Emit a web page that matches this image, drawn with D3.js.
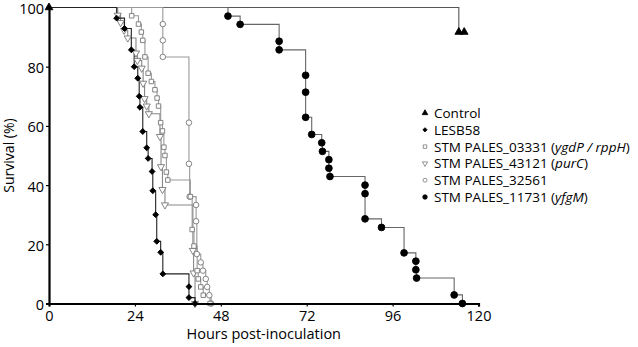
<!DOCTYPE html>
<html>
<head>
<meta charset="utf-8">
<script src="https://cdn.jsdelivr.net/npm/d3@7"></script>
<style>
  html, body { margin: 0; padding: 0; background: #fff; }
  svg text { font-family: "Open Sans", "Liberation Sans", sans-serif; fill: #000; }
</style>
</head>
<body>
<svg id="chart" width="638" height="347"></svg>
<script>
// ---- data (hours, survival %) ----
const xTicks = [0, 24, 48, 72, 96, 120];
const yTicks = [0, 20, 40, 60, 80, 100];

const controlPts = [[0,100],[114.5,91.7],[116,91.7]];
const lesb58Pts = [[18.9,96.4],[21.1,92.9],[23.0,85.7],[23.8,80.0],[24.8,76.1],[25.2,70.0],[25.4,66.3],[26.2,58.1],[27.3,52.6],[27.7,49.0],[28.8,44.6],[29.0,38.1],[29.8,30.0],[30.1,21.0],[31.2,17.3],[31.8,10.0],[39.1,5.7],[39.1,2.0],[40.8,0]];
const s03331Pts = [[23.1,97.2],[25.0,94.4],[25.8,91.7],[26.2,88.9],[26.8,83.3],[27.7,77.8],[28.6,75.0],[29.6,72.2],[30.2,69.4],[30.6,66.7],[31.2,61.1],[31.7,58.3],[32.1,52.8],[32.4,50.0],[32.8,44.4],[33.2,41.7],[39.5,36.1],[40.0,25.0],[40.5,19.4],[41.4,11.1],[41.7,8.3],[42.4,5.6],[43.1,2.8],[45.0,0]];
const s43121Pts = [[19.2,97.4],[20.0,94.9],[21.0,92.3],[22.0,89.7],[24.3,84.6],[24.7,82.1],[25.9,79.5],[26.3,74.4],[26.7,69.2],[27.3,66.7],[27.9,64.1],[31.0,56.4],[31.3,46.2],[31.7,38.5],[32.4,33.3],[40.2,17.9],[40.4,10.3],[40.8,0]];
const s32561Pts = [[31.8,94.4],[31.8,88.9],[31.8,83.3],[39.1,61.1],[39.1,47.2],[39.3,36.1],[41.1,33.3],[41.1,27.8],[41.3,16.7],[42.4,13.9],[43.0,11.1],[43.8,8.3],[44.2,5.6],[44.8,2.8],[45.3,0]];
const s11731Pts = [[50.0,97.1],[53.4,94.3],[64.3,88.6],[64.3,85.7],[71.7,77.1],[71.7,71.4],[71.7,62.9],[73.4,57.1],[76.2,54.3],[76.4,51.4],[78.2,48.6],[78.2,45.7],[78.5,42.9],[88.3,40.0],[88.3,37.1],[88.3,28.6],[92.9,25.7],[99.2,17.1],[102.5,14.3],[102.5,11.4],[102.7,8.6],[113.2,2.9],[115.5,0]];

const seriesNames = ["Control", "LESB58", "STM PALES_03331", "STM PALES_43121", "STM PALES_32561", "STM PALES_11731"];
const seriesGenes = ["", "", "ygdP / rppH", "purC", "", "yfgM"];

// ---- styles ----
const styles = [
  { pts: controlPts, line: "#555", sym: d3.symbolTriangle, size: 26, legSize: 14, fill: "#000", stroke: "#000", rot: 0 },
  { pts: lesb58Pts, line: "#222", sym: d3.symbolSquare, size: 17, legSize: 9, fill: "#000", stroke: "#000", rot: 45 },
  { pts: s03331Pts, line: "#999", sym: d3.symbolSquare, size: 20, legSize: 12, fill: "#fff", stroke: "#777", rot: 0 },
  { pts: s43121Pts, line: "#888", sym: d3.symbolTriangle, size: 22, legSize: 12, fill: "#fff", stroke: "#777", rot: 180 },
  { pts: s32561Pts, line: "#999", sym: d3.symbolCircle, size: 24, legSize: 12, fill: "#fff", stroke: "#777", rot: 0 },
  { pts: s11731Pts, line: "#666", sym: d3.symbolCircle, size: 36, legSize: 16, fill: "#000", stroke: "#000", rot: 0 }
];

const svg = d3.select("#chart");
const x = d3.scaleLinear().domain([0, 120]).range([49, 478.5]);
const y = d3.scaleLinear().domain([0, 100]).range([303.5, 7.5]);

function stepPath(pts) {
  let d = `M${x(0)},${y(100)}`;
  pts.forEach(([t, s]) => { d += `H${x(t)}V${y(s)}`; });
  return d;
}

const drawOrder = [0, 5, 4, 3, 2, 1];
drawOrder.forEach(i => {
  const st = styles[i];
  svg.append("path").attr("d", stepPath(st.pts))
    .attr("fill", "none").attr("stroke", st.line).attr("stroke-width", 1.1);
});
drawOrder.forEach(i => {
  const st = styles[i];
  const sym = d3.symbol().type(st.sym).size(st.size);
  svg.append("g").selectAll("path").data(st.pts).join("path")
    .attr("d", sym)
    .attr("transform", d => `translate(${x(d[0])},${y(d[1])}) rotate(${st.rot})`)
    .attr("fill", st.fill).attr("stroke", st.stroke).attr("stroke-width", 0.9);
});

// axes
const xAxis = d3.axisBottom(x).tickValues(xTicks).tickSize(3).tickPadding(4);
const yAxis = d3.axisLeft(y).tickValues(yTicks).tickSize(3).tickPadding(2);
const gx = svg.append("g").attr("transform", `translate(0,${y(0)})`).call(xAxis);
const gy = svg.append("g").attr("transform", `translate(${x(0)},0)`).call(yAxis);
[gx, gy].forEach(g => {
  g.select(".domain").attr("stroke", "#000").attr("stroke-width", 2.2);
  g.selectAll(".tick line").attr("stroke", "#000").attr("stroke-width", 1.2);
  g.selectAll(".tick text").attr("font-size", 14.5).attr("font-family", "Open Sans, sans-serif").attr("fill", "#000");
});
gy.selectAll(".tick text").attr("dy", "0.42em");

// axis titles
svg.append("text").attr("x", (x(0) + x(120)) / 2).attr("y", 339)
  .attr("text-anchor", "middle").attr("font-size", 14.5).text("Hours post-inoculation");
svg.append("text").attr("transform", `translate(14,${(y(0) + y(100)) / 2}) rotate(-90)`)
  .attr("text-anchor", "middle").attr("font-size", 14).text("Survival (%)");

// legend
const leg = svg.append("g");
seriesNames.forEach((name, i) => {
  const st = styles[i];
  const yy = 113 + i * 16.8;
  const sym = d3.symbol().type(st.sym).size(st.legSize);
  leg.append("path").attr("d", sym)
    .attr("transform", `translate(425,${yy}) rotate(${st.rot})`)
    .attr("fill", st.fill).attr("stroke", st.stroke).attr("stroke-width", 0.8);
  const t = leg.append("text").attr("x", 434).attr("y", yy + 5).attr("font-size", 13.5);
  t.append("tspan").text(name);
  if (seriesGenes[i]) {
    t.append("tspan").text(" (");
    t.append("tspan").attr("font-style", "italic").text(seriesGenes[i]);
    t.append("tspan").text(")");
  }
});
</script>
</body>
</html>
